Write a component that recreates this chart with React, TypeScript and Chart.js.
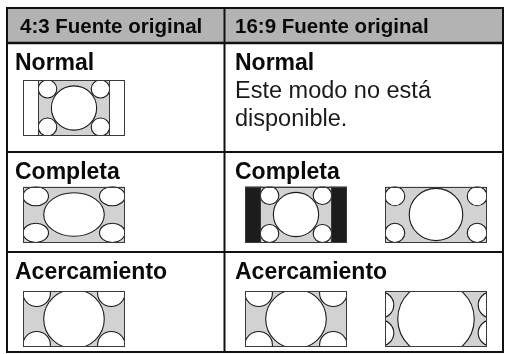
import React, { useEffect, useRef } from "react";
import { Chart, registerables } from "chart.js";

Chart.register(...registerables);

// ---- content ----
const columnHeaders = ["4:3 Fuente original", "16:9 Fuente original"];
const rowLabels = ["Normal", "Completa", "Acercamiento"];
const unavailableNote = ["Este modo no está", "disponible."];

// Shapes of each picture, in units of a 16 x 9 screen: [cx, cy, rx, ry]
type Shape = [number, number, number, number];
type Picture = { sides: "white" | "black" | null; content: [number, number]; shapes: Shape[] };

const pillar43Shapes: Shape[] = [
  [3.85, 1.45, 1.45, 1.45], [12.15, 1.45, 1.45, 1.45],
  [3.85, 7.55, 1.45, 1.45], [12.15, 7.55, 1.45, 1.45],
  [8, 4.5, 3.55, 3.55],
];
const stretch43Shapes: Shape[] = [
  [2.0, 1.55, 2.0, 1.55], [14.0, 1.55, 2.0, 1.55],
  [2.0, 7.45, 2.0, 1.55], [14.0, 7.45, 2.0, 1.55],
  [8, 4.5, 4.75, 3.5],
];
const zoom43Shapes: Shape[] = [
  [2.15, 0.35, 2.15, 2.15], [13.85, 0.35, 2.15, 2.15],
  [2.15, 8.65, 2.15, 2.15], [13.85, 8.65, 2.15, 2.15],
  [8, 4.5, 4.75, 4.75],
];
const full169Shapes: Shape[] = [
  [1.55, 1.55, 1.55, 1.55], [14.45, 1.55, 1.55, 1.55],
  [1.55, 7.45, 1.55, 1.55], [14.45, 7.45, 1.55, 1.55],
  [8, 4.5, 4.2, 4.2],
];
const zoom169Shapes: Shape[] = [
  [-0.72, 2.25, 2.1, 2.1], [16.72, 2.25, 2.1, 2.1],
  [-0.72, 6.75, 2.1, 2.1], [16.72, 6.75, 2.1, 2.1],
  [8, 4.5, 6.0, 6.0],
];

const pillar43: Picture = { sides: "white", content: [2.4, 13.6], shapes: pillar43Shapes };
const letterbox43: Picture = { sides: "black", content: [2.4, 13.6], shapes: pillar43Shapes };
const stretch43: Picture = { sides: null, content: [0, 16], shapes: stretch43Shapes };
const zoom43: Picture = { sides: null, content: [0, 16], shapes: zoom43Shapes };
const full169: Picture = { sides: null, content: [0, 16], shapes: full169Shapes };
const zoom169: Picture = { sides: null, content: [0, 16], shapes: zoom169Shapes };

// pictures per [row][column]
const cellPictures: Picture[][][] = [
  [[pillar43], []],
  [[stretch43], [letterbox43, full169]],
  [[zoom43], [zoom43, zoom169]],
];

// ---- layout (page px, used through the chart's scales) ----
const W = 505;
const H = 354;
const TABLE = { left: 7, right: 503, top: 8, bottom: 352 };
const HEADER_BOTTOM = 43;
const COL_SPLIT = 224.5;
const ROW_TOPS = [43, 152, 252, 352];
const COL_TEXT_X = [15, 235];
const HEAD_TEXT_X = [20, 235];
const PIC_X = [[23], [245, 385]];
const PIC_Y_OFFSET = [37, 34.5, 39];
const PIC_W = 102;
const PIC_H = 56;

const FONT = '"Liberation Sans", Arial, Helvetica, sans-serif';

const tablePlugin = {
  id: "tableDiagram",
  afterDraw(chart: any) {
    const ctx: CanvasRenderingContext2D = chart.ctx;
    const xs = chart.scales.x;
    const ys = chart.scales.y;
    const X = (v: number) => xs.getPixelForValue(v);
    const Y = (v: number) => ys.getPixelForValue(v);

    ctx.save();
    ctx.fillStyle = "#ffffff";
    ctx.fillRect(X(0), Y(0), X(W) - X(0), Y(H) - Y(0));

    // header band
    ctx.fillStyle = "#b3b3b3";
    ctx.fillRect(X(TABLE.left), Y(TABLE.top), X(TABLE.right) - X(TABLE.left), Y(HEADER_BOTTOM) - Y(TABLE.top));

    const drawPicture = (pic: Picture, bx: number, by: number) => {
      const x0 = X(bx), y0 = Y(by);
      const w = X(bx + PIC_W) - x0, h = Y(by + PIC_H) - y0;
      const ux = w / 16, uy = h / 9;
      ctx.save();
      ctx.fillStyle = pic.sides === "black" ? "#1c1c1c" : "#ffffff";
      ctx.fillRect(x0, y0, w, h);
      const cx0 = x0 + pic.content[0] * ux;
      const cx1 = x0 + pic.content[1] * ux;
      ctx.fillStyle = "#d2d2d2";
      ctx.fillRect(cx0, y0, cx1 - cx0, h);
      ctx.beginPath();
      ctx.rect(cx0, y0, cx1 - cx0, h);
      ctx.clip();
      ctx.lineWidth = 1.1;
      ctx.strokeStyle = "#1a1a1a";
      for (const [cx, cy, rx, ry] of pic.shapes) {
        ctx.beginPath();
        ctx.ellipse(x0 + cx * ux, y0 + cy * uy, rx * ux, ry * uy, 0, 0, Math.PI * 2);
        ctx.fillStyle = "#ffffff";
        ctx.fill();
        ctx.stroke();
      }
      ctx.restore();
      ctx.save();
      ctx.strokeStyle = "#3a3a3a";
      ctx.lineWidth = 1;
      if (pic.content[0] > 0) {
        ctx.beginPath();
        ctx.moveTo(Math.round(cx0) + 0.5, y0);
        ctx.lineTo(Math.round(cx0) + 0.5, y0 + h);
        ctx.moveTo(Math.round(cx1) - 0.5, y0);
        ctx.lineTo(Math.round(cx1) - 0.5, y0 + h);
        ctx.stroke();
      }
      ctx.strokeRect(Math.round(x0) + 0.5, Math.round(y0) + 0.5, Math.round(w) - 1, Math.round(h) - 1);
      ctx.restore();
    };

    cellPictures.forEach((row, r) => {
      row.forEach((pics, c) => {
        pics.forEach((pic, i) => {
          drawPicture(pic, PIC_X[c][i], ROW_TOPS[r] + PIC_Y_OFFSET[r]);
        });
      });
    });

    // text
    ctx.fillStyle = "#0a0a0a";
    ctx.textBaseline = "alphabetic";
    ctx.textAlign = "left";
    ctx.font = `bold 20.5px ${FONT}`;
    columnHeaders.forEach((t, c) => ctx.fillText(t, X(HEAD_TEXT_X[c]), Y(33)));

    ctx.font = `bold 23px ${FONT}`;
    rowLabels.forEach((t, r) => {
      for (let c = 0; c < 2; c++) ctx.fillText(t, X(COL_TEXT_X[c]), Y(ROW_TOPS[r] + 27));
    });

    ctx.font = `23.5px ${FONT}`;
    ctx.fillStyle = "#1a1a1a";
    unavailableNote.forEach((t, i) => ctx.fillText(t, X(COL_TEXT_X[1]), Y(ROW_TOPS[0] + 55 + i * 28)));

    // grid lines
    ctx.strokeStyle = "#111111";
    ctx.lineWidth = 2;
    ctx.strokeRect(X(TABLE.left), Y(TABLE.top), X(TABLE.right) - X(TABLE.left), Y(TABLE.bottom) - Y(TABLE.top));
    ctx.beginPath();
    ctx.moveTo(X(COL_SPLIT), Y(TABLE.top));
    ctx.lineTo(X(COL_SPLIT), Y(TABLE.bottom));
    ctx.stroke();
    ctx.lineWidth = 2.5;
    ctx.beginPath();
    ctx.moveTo(X(TABLE.left), Y(HEADER_BOTTOM));
    ctx.lineTo(X(TABLE.right), Y(HEADER_BOTTOM));
    ctx.stroke();
    ctx.lineWidth = 2;
    ctx.beginPath();
    for (const yv of ROW_TOPS.slice(1, 3)) {
      ctx.moveTo(X(TABLE.left), Y(yv));
      ctx.lineTo(X(TABLE.right), Y(yv));
    }
    ctx.stroke();
    ctx.restore();
  },
};

export default function App() {
  const ref = useRef<HTMLCanvasElement | null>(null);
  useEffect(() => {
    if (!ref.current) return;
    const chart = new Chart(ref.current, {
      type: "scatter",
      data: { datasets: [] },
      options: {
        animation: false,
        responsive: false,
        devicePixelRatio: 1,
        events: [],
        layout: { padding: 0 },
        plugins: { legend: { display: false }, tooltip: { enabled: false } },
        scales: {
          x: { type: "linear", min: 0, max: W, display: false },
          y: { type: "linear", min: 0, max: H, reverse: true, display: false },
        },
      },
      plugins: [tablePlugin],
    });
    return () => chart.destroy();
  }, []);
  return (
    <div style={{ position: "fixed", left: 0, top: 0, width: W, height: H, background: "#fff" }}>
      <canvas ref={ref} width={W} height={H} style={{ display: "block", width: W, height: H }} />
    </div>
  );
}
